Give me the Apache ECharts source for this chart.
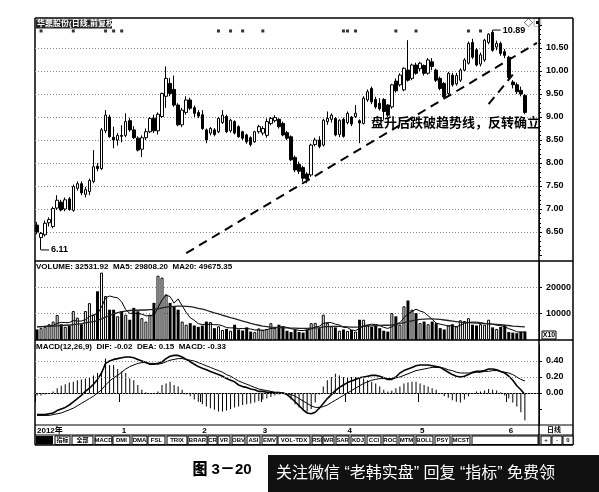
<!DOCTYPE html>
<html>
<head>
<meta charset="utf-8">
<script src="https://cdn.jsdelivr.net/npm/echarts@6.0.0/dist/echarts.min.js"></script>
<style>
    html, body { margin: 0; padding: 0; background: #fff; }
    #main { width: 599px; height: 492px; }
</style>
</head>
<body>
<div id="main"></div>
<script>
    // 日K线 [开, 收, 低, 高]，按月份
    var kDec = [
        [6.65,6.50,6.45,6.72],[6.38,6.47,6.11,6.50],[6.44,6.69,6.40,6.75],[6.70,6.77,6.62,6.82],
        [6.62,7.01,6.58,7.05],[7.02,7.19,6.98,7.30],[7.15,6.98,6.95,7.20],[7.00,7.20,6.95,7.25],
        [7.22,6.99,6.96,7.26],[6.97,7.49,6.94,7.53],[7.45,7.55,7.40,7.60],[7.55,7.35,7.30,7.60],
        [7.32,7.42,7.25,7.48],[7.38,7.62,7.30,7.66],[7.60,7.92,7.56,8.28],[7.93,7.88,7.82,8.00],
        [7.88,8.72,7.85,8.76],[8.70,9.04,8.65,9.15],[9.00,8.57,8.55,9.05],[8.56,8.50,8.32,8.79],
        [8.50,8.60,8.38,8.65]
    ];
    var kJan = [
        [8.60,8.58,8.45,8.82],[8.60,8.90,8.56,9.08],[8.92,8.72,8.68,8.98],[8.72,8.55,8.52,8.80],
        [8.54,8.28,8.25,8.58],[8.30,8.55,8.13,8.60],[8.55,8.68,8.50,8.75],[8.68,8.97,8.65,9.00],
        [8.97,8.70,8.65,9.05],[8.70,9.06,8.62,9.10],[9.01,9.51,8.98,9.53],[9.45,9.84,9.20,10.10],
        [9.73,9.51,9.45,9.85],[9.60,9.26,9.22,9.90],[9.26,8.83,8.80,9.30],[8.83,9.15,8.78,9.20],
        [9.10,9.37,9.05,9.45],[9.37,9.19,9.15,9.42],[9.20,9.08,9.00,9.25],[9.10,9.02,8.98,9.15]
    ];
    var kFeb = [
        [9.05,8.75,8.72,9.15],[8.72,8.50,8.43,8.75],[8.65,8.75,8.60,8.78],[8.72,8.62,8.58,8.76],
        [8.68,8.97,8.65,9.00],[8.88,9.04,8.85,9.15],[9.01,8.68,8.65,9.05],[8.70,8.93,8.66,8.96],
        [8.90,8.65,8.62,8.93],[8.79,8.57,8.55,8.82],[8.68,8.54,8.50,8.70],[8.61,8.46,8.42,8.64],
        [8.55,8.40,8.36,8.58],[8.46,8.68,8.44,8.70],[8.68,8.79,8.64,8.83]
    ];
    var kMar = [
        [8.65,8.75,8.60,8.80],[8.60,8.90,8.55,8.97],[8.86,8.97,8.82,9.00],[8.92,8.99,8.88,9.04],
        [8.95,8.79,8.75,8.97],[8.86,8.61,8.58,8.90],[8.66,8.54,8.50,8.70],[8.57,8.07,8.04,8.60],
        [8.12,7.85,7.80,8.16],[7.97,7.82,7.76,8.03],[7.90,7.67,7.59,7.94],[7.76,7.65,7.56,7.80],
        [7.74,8.39,7.70,8.42],[8.40,8.50,8.36,8.55],[8.50,8.36,8.32,8.58],[8.39,8.93,8.36,8.96],
        [8.90,8.97,8.83,9.12],[8.95,9.04,8.88,9.08],[8.97,8.61,8.58,9.00],[8.62,8.93,8.56,8.95],
        [8.95,8.58,8.55,8.99]
    ];
    var kApr = [
        [8.88,9.08,8.84,9.12],[9.00,8.85,8.80,9.02],[9.01,9.08,8.98,9.26],[8.92,8.87,8.43,8.95],
        [8.86,9.41,8.84,9.45],[9.37,9.55,9.33,9.60],[9.62,9.33,9.28,9.66],[9.38,9.22,9.18,9.44],
        [9.30,9.18,9.14,9.41],[9.38,9.12,8.94,9.41],[9.26,9.04,9.00,9.28],[9.22,9.70,9.18,9.72],
        [9.78,9.57,9.53,9.84],[9.70,9.91,9.66,9.95],[9.59,10.06,9.56,10.08],[10.02,9.80,9.77,10.67],
        [9.84,10.13,9.80,10.16],[10.13,9.95,9.92,10.18]
    ];
    var kMay = [
        [10.05,10.17,10.00,10.20],[10.12,9.95,9.90,10.14],[9.95,10.24,9.92,10.28],[10.20,10.10,10.02,10.28],
        [10.02,9.80,9.76,10.05],[9.84,9.62,9.58,9.88],[9.73,9.44,9.41,9.76],[9.51,9.95,9.48,9.98],
        [9.91,9.70,9.66,9.96],[9.72,9.90,9.68,9.96],[9.80,10.02,9.76,10.06],[10.02,10.24,10.00,10.28],
        [10.17,10.60,10.14,10.64],[10.62,10.30,10.26,10.70],[10.46,10.13,10.10,10.50],[10.15,10.35,10.10,10.40],
        [10.24,10.67,10.20,10.70],[10.62,10.80,10.58,10.82],[10.84,10.45,10.42,10.89],[10.52,10.60,10.45,10.66],
        [10.60,10.38,10.33,10.64],[10.42,10.34,10.28,10.48]
    ];
    var kJun = [
        [10.30,9.86,9.82,10.33],[9.76,9.70,9.62,9.80],[9.70,9.55,9.50,9.75],[9.58,9.50,9.45,9.66],
        [9.47,9.10,9.06,9.50]
    ];

    // 成交量 (x10)
    var volume = [
        4000,4500,5000,6000,7000,9500,6000,5000,5500,11000,8500,6000,11000,14000,9600,18500,25600,16700,11500,11500,9000,
        10900,9600,7700,12200,10900,8300,7000,9600,14100,24400,23700,17300,14100,12800,11500,7000,5800,6400,5500,5000,
        5500,7000,6800,4500,5200,3800,4200,3500,5800,4000,3600,4800,3200,3000,4400,
        3800,4200,6400,4500,5800,5200,3500,3000,3800,3000,2800,4000,6400,6500,4500,9600,6500,5200,4800,3500,4000,
        3400,3800,3200,7700,7700,5800,5000,5500,4500,3500,3200,10250,9000,5800,12800,15000,11500,10200,
        6400,7000,6000,7000,6400,4500,4000,5500,6000,5200,7500,7200,8300,5800,5500,6000,5800,7700,4800,4200,5000,5800,
        3000,2800,2600,3200,3253
    ];
    var volMa5 = [
        5000,5000,5200,5300,5500, 6300,6700,6600,6600,7400, 7200,7200,7700,8900,9500, 10000,12500,16000,16700,16300,
        16000,14500,11500,10100,10200, 10000,9800,9200,9200,9500, 12300,15200,17000,16500,14000, 15600,13000,10500,8500,7500,
        6200,5900,5900,6000,5800, 5800,5400,4700,4600,4600, 4300,4400,4300,4200,3800, 3800,3700,3900,4400,4500,
        4900,5000,4800,4300,4000, 3600,3600,3800,4200,4900, 5200,6300,6600,6600,6000, 5700,4800,4700,3800,3600,
        4400,5400,5700,6000,5900, 5500,4800,4400,5000,6000, 6600,8400,10000,10800,11700, 11000,10500,9200,7900,6400,
        6000,5700,5400,5400,5000, 5600,6300,6700,6800,6800, 6600,6300,6200,6000,5600, 5500,5000,4300,3800,3100,
        3000,2981
    ];
    var volMa20 = [
        5100,5100,5200,5200,5300,5400,5500,5600,5700,5800, 6000,6200,6500,6800,7000,7400,8000,8700,9300,9900,
        10400,10800,11000,11200,11300,11300,11400,11400,11500,11500, 11800,12200,12500,12700,12800,12900,12900,12800,12700,12400,
        12000,11700,11300,10800,10300,9900,9400,9000,8500,8100, 7600,7200,6800,6300,5900,5600,5300,5100,4900,4800,
        4700,4600,4600,4500,4500,4400,4400,4400,4500,4600, 4700,5000,5100,5200,5200,5200,5100,5000,4900,4900,
        5000,5200,5300,5400,5500,5500,5600,5600,5700,5900, 6200,6600,7000,7300,7600,7800,7900,8000,8000,7900,
        7800,7600,7400,7200,7000,6800,6700,6600,6500,6400, 6300,6200,6100,6000,5900,5800,5600,5500,5300,5200,5100,4968
    ];

    // MACD(12,26,9)
    var dif = [
        -0.27,-0.27,-0.27,-0.26,-0.25,-0.22,-0.20,-0.18,-0.15,-0.11,-0.07,
        -0.03,0.02,0.06,0.11,0.17,0.25,0.37,0.40,0.42,0.43,
        0.44,0.45,0.45,0.44,0.42,0.40,0.38,0.36,0.36,0.37,
        0.39,0.43,0.46,0.47,0.47,0.45,0.42,0.39,0.36,0.33,
        0.31,0.29,0.27,0.25,0.23,0.21,0.18,0.16,0.14,0.10,
        0.08,0.07,0.05,0.04,0.02,0.02,0.01,0.01,0.00,0.00,
        0.00,-0.02,-0.06,-0.11,-0.16,-0.21,-0.25,-0.26,-0.24,-0.19,
        -0.13,-0.07,-0.02,0.03,0.07,0.10,0.13,0.15,0.17,0.19,
        0.20,0.21,0.22,0.22,0.21,0.19,0.17,0.17,0.20,0.25,
        0.28,0.30,0.32,0.34,0.35,0.35,0.35,0.34,0.33,0.32,
        0.29,0.26,0.23,0.21,0.20,0.21,0.23,0.26,0.27,0.27,
        0.28,0.30,0.30,0.29,0.27,0.25,0.21,0.16,0.09,0.04,-0.02
    ];
    var dea = [
        -0.28,-0.28,-0.28,-0.28,-0.27,-0.26,-0.25,-0.23,-0.21,-0.19,-0.16,
        -0.13,-0.10,-0.07,-0.04,0.00,0.04,0.10,0.15,0.19,0.22,
        0.26,0.30,0.33,0.35,0.37,0.38,0.38,0.37,0.37,0.36,
        0.37,0.39,0.41,0.42,0.43,0.43,0.42,0.41,0.40,0.38,
        0.36,0.34,0.32,0.30,0.28,0.26,0.23,0.21,0.18,0.15,
        0.13,0.11,0.09,0.07,0.05,0.04,0.03,0.02,0.01,0.01,
        0.00,-0.01,-0.02,-0.04,-0.07,-0.10,-0.13,-0.16,-0.18,-0.18,
        -0.17,-0.15,-0.12,-0.09,-0.06,-0.03,0.00,0.03,0.06,0.09,
        0.12,0.14,0.16,0.17,0.18,0.18,0.18,0.18,0.19,0.20,
        0.22,0.24,0.26,0.28,0.29,0.30,0.31,0.32,0.32,0.32,
        0.31,0.29,0.28,0.26,0.25,0.25,0.25,0.25,0.26,0.26,
        0.27,0.27,0.28,0.28,0.27,0.26,0.25,0.23,0.20,0.17,0.15
    ];
    var macdBar = [
        -0.03,-0.03,-0.02,0.00,0.02,0.06,0.09,0.11,0.13,0.14,0.16,
        0.17,0.18,0.20,0.22,0.25,0.27,0.43,0.35,0.35,0.30,
        0.27,0.25,0.18,0.16,0.10,0.04,0.01,-0.01,0.00,0.02,
        0.10,0.12,0.14,0.10,0.08,0.04,-0.02,-0.04,-0.08,-0.11,
        -0.14,-0.17,-0.19,-0.21,-0.23,-0.23,-0.22,-0.20,-0.18,-0.17,
        -0.15,-0.14,-0.13,-0.12,-0.10,-0.08,-0.07,-0.05,-0.03,-0.02,
        0.00,-0.02,-0.08,-0.14,-0.18,-0.22,-0.23,-0.20,-0.12,-0.02,
        0.08,0.16,0.20,0.24,0.22,0.20,0.20,0.20,0.20,0.20,
        0.18,0.16,0.14,0.12,0.08,0.04,0.02,0.03,0.06,0.08,
        0.12,0.13,0.14,0.14,0.12,0.10,0.08,0.06,0.04,0.00,
        -0.04,-0.06,-0.09,-0.11,-0.12,-0.08,-0.04,0.00,0.02,0.02,
        0.03,0.05,0.04,0.03,0.01,-0.03,-0.07,-0.12,-0.17,-0.24,-0.34
    ];

    // 月份刻度
    var monthIdx = [0, 21, 41, 56, 77, 95, 117];
    var monthLabel = ['2012年', '1', '2', '3', '4', '5', '6'];

    // 信息地雷
    var eventDays = [1, 9, 17, 19, 21, 45, 48, 51, 56, 76, 77, 79, 89, 94, 107, 110];
    var eventLevel = 10.87;

    // 趋势线
    var trendLine = [[37, 6.04], [124, 10.61]];
    var breakLine = [[112, 9.28], [118, 9.92]];

    var kData = kDec.concat(kJan, kFeb, kMar, kApr, kMay, kJun);
    var slots = kData.length + 3;   // 右侧留空
    var cats = [];
    for (var i = 0; i < slots; i++) cats.push(String(i));

    var monthAt = {};
    monthIdx.forEach(function (d, k) { monthAt[d] = monthLabel[k]; });

    var FONT = 'Liberation Sans, Noto Sans CJK SC, sans-serif';
    var dotLine = { color: '#8a8a8a', type: [1, 2], width: 1 };

    function xAxisFor(g, show) {
        return {
            type: 'category', gridIndex: g, data: cats, boundaryGap: true,
            axisLine: { show: show, lineStyle: { color: '#000' } },
            axisTick: {
                show: show, length: 9, lineStyle: { color: '#000' },
                interval: function (i) { return monthAt[i] !== undefined; }
            },
            axisLabel: {
                show: show, align: 'left', margin: 2, fontSize: 8, fontWeight: 'bold',
                color: '#000', fontFamily: FONT,
                interval: function (i) { return monthAt[i] !== undefined; },
                formatter: function (v, i) { return monthAt[i] || ''; }
            },
            splitLine: { show: false }
        };
    }

    function yAxisFor(g, min, max, step, fmt) {
        return {
            type: 'value', gridIndex: g, position: 'right', min: min, max: max, interval: step,
            axisLine: { show: true, lineStyle: { color: '#000' } },
            axisTick: { show: true, length: 3, lineStyle: { color: '#000' } },
            axisLabel: {
                showMinLabel: false, showMaxLabel: false, formatter: fmt, margin: 7,
                color: '#000', fontSize: 9, fontWeight: 'bold', fontFamily: FONT
            },
            splitLine: { show: false }
        };
    }

    var priceAxis = yAxisFor(0, 6, 11, 0.5, function (v) { return v.toFixed(2); });
    priceAxis.minorTick = { show: true, splitNumber: 5, length: 2, lineStyle: { color: '#000' } };
    priceAxis.splitLine = { show: true, showMinLine: false, showMaxLine: false, lineStyle: dotLine };

    var volAxis = yAxisFor(1, 0, 30000, 10000, function (v) { return String(v); });
    volAxis.splitLine = { show: true, showMinLine: false, showMaxLine: false, lineStyle: dotLine };

    var macdAxis = yAxisFor(2, -0.4, 0.6, 0.2, function (v) {
        return (v > -0.01 && v < 0.5) ? v.toFixed(2) : '';
    });

    var volData = volume.map(function (v, i) {
        var k = kData[i];
        var up = k[1] >= k[0];
        return {
            value: v,
            itemStyle: up ? { color: '#fff', borderColor: '#000', borderWidth: 1 } : { color: '#000' }
        };
    });

    var markLabel = {
        show: true, position: 'right', distance: 2, color: '#000', fontSize: 9,
        fontWeight: 'bold', fontFamily: FONT,
        formatter: function (p) { return Number(p.value).toFixed(2); }
    };

    // 按钮栏
    var buttons = [
        ['指标',55,70],['全部',72,93],['MACD',95,112],['DMI',113,130],['DMA',132,147],['FSL',148,165],
        ['TRIX',167,187],['BRAR',188,207],['CR',208,217],['VR',218,230],['OBV',232,245],['ASI',247,260],
        ['EMV',262,277],['VOL-TDX',278,310],['RSI',312,322],['WR',323,334],['SAR',336,349],['KDJ',351,365],
        ['CCI',367,381],['ROC',383,397],['MTM',399,414],['BOLL',416,433],['PSY',435,450],['MCST',452,470],
        ['',472,538],['+',541,551],['-',552,562],['0',563,573]
    ];

    var graphics = [];
    function hline(y, x1, x2, w) {
        graphics.push({ type: 'line', silent: true, shape: { x1: x1, y1: y, x2: x2, y2: y }, style: { stroke: '#000', lineWidth: w || 1 } });
    }
    function vline(x, y1, y2, w) {
        graphics.push({ type: 'line', silent: true, shape: { x1: x, y1: y1, x2: x, y2: y2 }, style: { stroke: '#000', lineWidth: w || 1 } });
    }
    function text(t, x, y, size, opts) {
        var s = { text: t, x: x, y: y, fill: '#000', font: (opts && opts.weight || 'bold') + ' ' + size + 'px ' + FONT,
            align: (opts && opts.align) || 'left', verticalAlign: 'middle' };
        if (opts && opts.fill) s.fill = opts.fill;
        graphics.push({ type: 'text', silent: true, z: 100, style: s });
    }

    // 外框与分隔线
    hline(18, 35, 573, 1.5);
    hline(261, 35, 573, 1.5);
    hline(340, 35, 573, 1.5);
    hline(425, 35, 573, 1);
    hline(435, 35, 573, 1);
    hline(445, 35, 573, 1.5);
    vline(35, 18, 445, 1.5);
    vline(539, 18, 445, 1.5);
    vline(573, 18, 445, 1.5);

    // 标题 / 指标说明
    graphics.push({ type: 'rect', silent: true, shape: { x: 36, y: 19.5, width: 76, height: 9 }, style: { fill: '#222' } });
    text('华鼎股份(日线,前复权)', 37, 24, 8, { fill: '#fff' });
    text('◇▣', 524, 24, 9, { weight: 'normal' });
    text('VOLUME: 32531.92  MA5: 29808.20  MA20: 49675.35', 36, 266.5, 8);
    text('MACD(12,26,9)  DIF: -0.02  DEA: 0.15  MACD: -0.33', 36, 347, 8);
    graphics.push({ type: 'rect', silent: true, shape: { x: 542, y: 331, width: 14, height: 8 }, style: { fill: '#fff', stroke: '#000', lineWidth: 1 } });
    text('X10', 549, 335, 7, { align: 'center' });
    text('日线', 554, 430, 7, { align: 'center' });

    // 注释
    text('盘升后跌破趋势线，反转确立', 371, 123, 13, { weight: 'bold' });

    // 按钮
    graphics.push({ type: 'rect', silent: true, shape: { x: 36, y: 436, width: 17, height: 8.5 }, style: { fill: '#000' } });
    buttons.forEach(function (b) {
        graphics.push({ type: 'rect', silent: true, shape: { x: b[1], y: 436, width: b[2] - b[1], height: 8.5 },
            style: { fill: '#fff', stroke: '#000', lineWidth: 1 } });
        if (b[0]) text(b[0], (b[1] + b[2]) / 2, 440.5, 6, { align: 'center' });
    });

    // 图注
    text('图 3－20', 222, 470, 15, { align: 'center', weight: '900' });
    graphics.push({ type: 'rect', silent: true, shape: { x: 268, y: 455, width: 331, height: 37 }, style: { fill: '#111' } });
    text('关注微信 “老韩实盘” 回复 “指标” 免费领', 276, 474, 16, { weight: 'normal', fill: '#fff' });

    var option = {
        animation: false,
        backgroundColor: '#fff',
        textStyle: { fontFamily: FONT },
        grid: [
            { left: 35, width: 504, top: 25, height: 230 },
            { left: 35, width: 504, top: 261, height: 79 },
            { left: 35, width: 504, top: 345, height: 80 }
        ],
        xAxis: [xAxisFor(0, false), xAxisFor(1, false), xAxisFor(2, true)],
        yAxis: [priceAxis, volAxis, macdAxis],
        series: [
            {
                name: 'K', type: 'candlestick', xAxisIndex: 0, yAxisIndex: 0,
                data: kData, barWidth: 3,
                itemStyle: { color: '#fff', color0: '#000', borderColor: '#000', borderColor0: '#000', borderWidth: 1 },
                markPoint: {
                    silent: true,
                    symbol: 'rect', symbolSize: [8, 1], symbolOffset: [4, 0],
                    itemStyle: { color: '#000' },
                    label: markLabel,
                    data: [
                        { type: 'max', valueDim: 'highest' },
                        { type: 'min', valueDim: 'lowest' }
                    ]
                },
                markLine: {
                    silent: true, symbol: 'none',
                    label: { show: false },
                    lineStyle: { color: '#000', type: [9, 6], width: 2 },
                    data: [
                        [{ coord: trendLine[0] }, { coord: trendLine[1] }],
                        [{ coord: breakLine[0] }, { coord: breakLine[1] }]
                    ]
                }
            },
            {
                name: 'event', type: 'scatter', xAxisIndex: 0, yAxisIndex: 0, silent: true,
                symbol: 'rect', symbolSize: 3, itemStyle: { color: '#000' },
                data: eventDays.map(function (d) { return [String(d), eventLevel]; })
            },
            {
                name: 'VOLUME', type: 'bar', xAxisIndex: 1, yAxisIndex: 1,
                data: volData, barWidth: 3
            },
            {
                name: 'MA5', type: 'line', xAxisIndex: 1, yAxisIndex: 1, data: volMa5,
                symbol: 'none', lineStyle: { color: '#000', width: 1 }
            },
            {
                name: 'MA20', type: 'line', xAxisIndex: 1, yAxisIndex: 1, data: volMa20,
                symbol: 'none', lineStyle: { color: '#222', width: 1.3 }
            },
            {
                name: 'MACD', type: 'bar', xAxisIndex: 2, yAxisIndex: 2, data: macdBar,
                barWidth: 1, itemStyle: { color: '#000' },
                markLine: {
                    silent: true, symbol: 'none', label: { show: false },
                    lineStyle: dotLine,
                    data: [{ yAxis: 0.4 }, { yAxis: 0.2 }, { yAxis: 0 }]
                }
            },
            {
                name: 'DIF', type: 'line', xAxisIndex: 2, yAxisIndex: 2, data: dif,
                symbol: 'none', lineStyle: { color: '#000', width: 1.6 }
            },
            {
                name: 'DEA', type: 'line', xAxisIndex: 2, yAxisIndex: 2, data: dea,
                symbol: 'none', lineStyle: { color: '#000', width: 1 }
            }
        ],
        graphic: graphics
    };

    var chart = echarts.init(document.getElementById('main'));
    chart.setOption(option);
</script>
</body>
</html>
